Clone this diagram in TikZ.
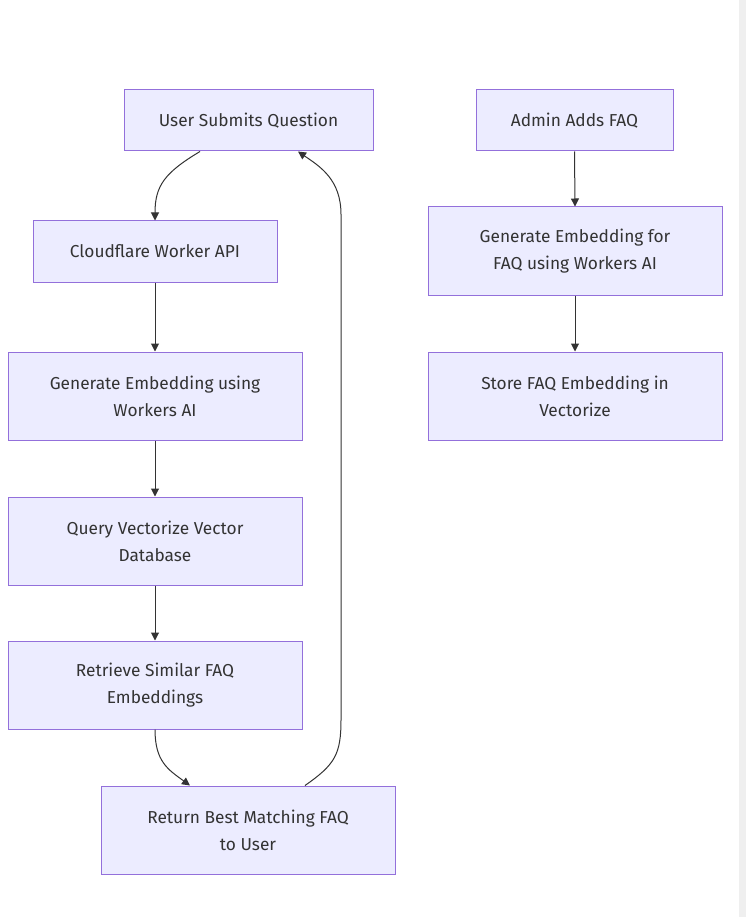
\documentclass[tikz,border=0pt]{standalone}
\usepackage{fontspec}
\setmainfont{Fira Sans}
\usetikzlibrary{arrows.meta}
\definecolor{boxfill}{HTML}{ECECFF}
\definecolor{boxline}{HTML}{9370DB}
\definecolor{edge}{HTML}{333333}
\definecolor{strip}{HTML}{EFEFEF}
\begin{document}
\begin{tikzpicture}[x=1pt,y=-1pt,
  box/.style={draw=boxline,fill=boxfill,line width=1pt,inner sep=0pt,align=center,
    font=\fontsize{17.3}{27}\selectfont,text=edge},
  conn/.style={draw=edge,line width=1pt,-{Triangle[length=8pt,width=8pt]}}]
\useasboundingbox (0,0) rectangle (746,917);
\fill[white] (0,0) rectangle (746,917);
\fill[strip] (739,0) rectangle (746,917);
\node[box,minimum width=249pt,minimum height=61pt] (A) at (248.5,120.5) {User Submits Question};
\node[box,minimum width=244pt,minimum height=61pt] (B) at (155,251.5) {Cloudflare Worker API};
\node[box,minimum width=294pt,minimum height=88pt] (C) at (155,396) {Generate Embedding using\\Workers AI};
\node[box,minimum width=294pt,minimum height=88pt] (D) at (155,541) {Query Vectorize Vector\\Database};
\node[box,minimum width=294pt,minimum height=88pt] (E) at (155,685) {Retrieve Similar FAQ\\Embeddings};
\node[box,minimum width=294pt,minimum height=88pt] (F) at (248,830) {Return Best Matching FAQ\\to User};
\node[box,minimum width=197pt,minimum height=61pt] (G) at (574.5,120.5) {Admin Adds FAQ};
\node[box,minimum width=294pt,minimum height=88pt] (H) at (575,251) {Generate Embedding for\\FAQ using Workers AI};
\node[box,minimum width=294pt,minimum height=88pt] (I) at (575,396) {Store FAQ Embedding in\\Vectorize};
\draw[conn] ([xshift=-48.5pt]A.south) .. controls +(-35,21) and +(0,-35) .. (B.north);
\draw[conn] (B.south) -- (C.north);
\draw[conn] (C.south) -- (D.north);
\draw[conn] (D.south) -- (E.north);
\draw[conn] (E.south) .. controls +(0,32) and +(-22,-16) .. ([xshift=-58pt]F.north);
\draw[conn] ([xshift=57pt]F.north) .. controls +(30,-21) and +(0,35) .. ++(36,-66) -- ++(0,-505) .. controls +(0,-35) and +(22,15) .. ([xshift=49.5pt]A.south);
\draw[conn] (G.south) -- (H.north);
\draw[conn] (H.south) -- (I.north);
\end{tikzpicture}
\end{document}
